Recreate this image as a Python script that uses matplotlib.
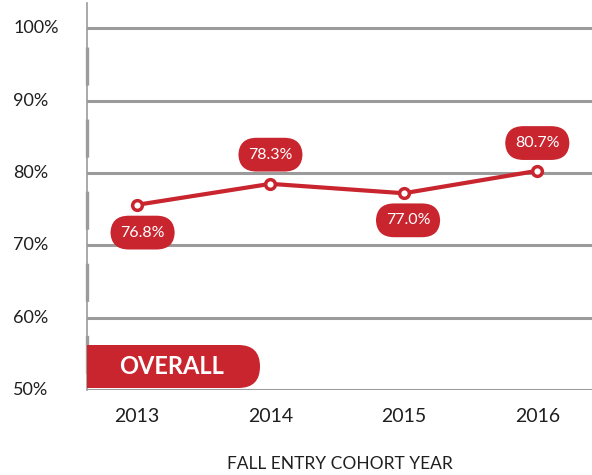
import matplotlib
matplotlib.use("Agg")
import matplotlib.pyplot as plt
from matplotlib.patches import FancyBboxPatch, Rectangle

# data
years = ["2013", "2014", "2015", "2016"]
rates = [75.6, 78.5, 77.2, 80.3]
rate_labels = ["76.8%", "78.3%", "77.0%", "80.7%"]
y_ticks = [50, 60, 70, 80, 90, 100]
y_tick_labels = ["50%", "60%", "70%", "80%", "90%", "100%"]
x_title = "FALL ENTRY COHORT YEAR"
badge_text = "OVERALL"

RED = "#c9252f"
GREY = "#9b9b9b"
INK = "#1f1f1f"

plt.rcParams["font.family"] = ["Lato", "DejaVu Sans"]
plt.rcParams["lines.scale_dashes"] = False

W, H = 592, 475
fig = plt.figure(figsize=(W / 100, H / 100), dpi=100)
ax = fig.add_axes([87 / W, (H - 390) / H, 505 / W, 387 / H])

x = list(range(len(years)))
ax.set_xlim(-0.375, 3.41)
ax.set_ylim(50, 103.5)

# grid and axis line
for v in y_ticks:
    ax.axhline(v, color=GREY, lw=2.2, zorder=1)
for s in ["top", "right", "bottom"]:
    ax.spines[s].set_visible(False)
ax.spines["left"].set_color(GREY)
ax.spines["left"].set_linewidth(1.2)
ax.plot([-0.375, -0.375], [100, 50], color=GREY, lw=2.4, solid_capstyle="butt",
        linestyle=(38.2, (27.4, 24.5)), clip_on=False, zorder=2)

ax.set_yticks([])
for v, lab in zip(y_ticks, y_tick_labels):
    ax.text(-0.1465, v, lab, transform=ax.get_yaxis_transform(), ha="left",
            va="center", fontsize=13, color=INK)

ax.set_xticks(x)
ax.set_xticklabels(years, fontsize=14, color=INK)
ax.tick_params(axis="x", length=0, pad=13)
ax.set_xlabel(x_title, fontsize=12.5, color=INK, labelpad=22)

# the series
ax.plot(x, rates, color=RED, lw=3, zorder=4, marker="o", markersize=7,
        markerfacecolor="white", markeredgecolor=RED, markeredgewidth=2.5)

offsets = [(4, -20), (0, 21), (3, -19.5), (0, 20)]
for xi, yi, lab, off in zip(x, rates, rate_labels, offsets):
    ax.annotate(lab, (xi, yi), xytext=off, textcoords="offset points",
                ha="center", va="center", fontsize=11.5, color="white", zorder=6,
                bbox=dict(boxstyle="round,pad=0.62,rounding_size=1.15",
                          fc=RED, ec="none"))

# OVERALL badge, in pixel units
px = fig.dpi_scale_trans
x0, x1, yb, yt = 87, 260, H - 388, H - 345
r = (yt - yb) / 2
fig.patches.append(FancyBboxPatch((x0 / 100, yb / 100), (x1 - x0) / 100, (yt - yb) / 100,
                                  boxstyle=f"round,pad=0,rounding_size={r / 100}",
                                  fc=RED, ec="none", transform=px, zorder=5))
fig.patches.append(Rectangle((x0 / 100, yb / 100), 2 * r / 100, (yt - yb) / 100,
                             fc=RED, ec="none", transform=px, zorder=5))
fig.text(172 / W, (H - 366) / H, badge_text, color="white", fontsize=17,
         fontweight="bold", ha="center", va="center", zorder=6)

fig.savefig("out.png", dpi=100)
